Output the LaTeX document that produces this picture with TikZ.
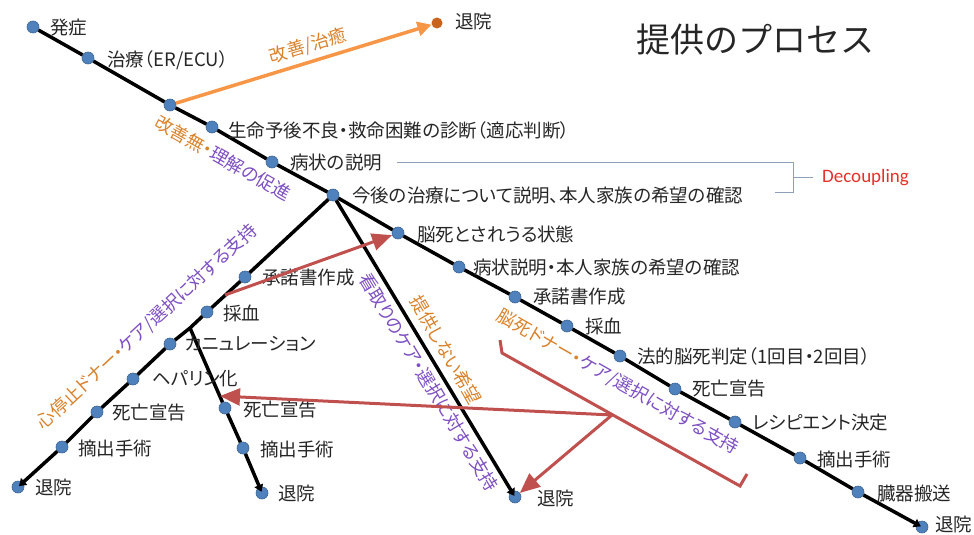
\documentclass[tikz,border=0pt]{standalone}
\usepackage{fontspec}
\newfontfamily\jpf[RawFeature=+palt]{Noto Sans CJK JP}
\newfontfamily\jpt{Noto Sans CJK JP}
\newfontfamily\calfont{Carlito}
\usetikzlibrary{arrows.meta}
\definecolor{dotblue}{HTML}{4F81BD}
\definecolor{dotedge}{HTML}{3B6496}
\definecolor{orangeline}{HTML}{F79646}
\definecolor{orangetext}{HTML}{D9822B}
\definecolor{purpletext}{HTML}{7E4FC2}
\definecolor{redline}{HTML}{C0504D}
\definecolor{grayline}{HTML}{8EA0B8}
\definecolor{decored}{HTML}{E8302A}
\definecolor{odot}{HTML}{C8631E}
\begin{document}
\begin{tikzpicture}[x=1pt,y=-1pt,
  dot/.style={circle,fill=dotblue,draw=dotedge,line width=0.6pt,minimum size=12pt,inner sep=0pt},
  lbl/.style={anchor=west,inner sep=0pt,font=\jpf\fontsize{18.5}{20}\selectfont,text=black!85},
  rlbl/.style={inner sep=0pt,font=\jpf\fontsize{18}{20}\selectfont},
  track/.style={line width=3.5pt,draw=black},
  trackend/.style={track,-{Triangle[length=7pt,width=9pt]},shorten >=-5pt},
  redarrow/.style={line width=3pt,draw=redline,-{Triangle[length=20pt,width=17pt]}},
  orangearrow/.style={line width=3.5pt,draw=orangeline,-{Triangle[length=14pt,width=14pt]}},
  bracketline/.style={line width=1pt,draw=grayline},
]
\useasboundingbox (0,0) rectangle (974,535);

% title
\node[font=\jpt\fontsize{34}{36}\selectfont,text=black!85] (title) at (755,40) {提供のプロセス};

% main line dots
\node[dot] (m1) at (33,27) {};
\node[dot] (m2) at (88,58) {};
\node[dot] (m3) at (170,105) {};
\node[dot] (m4) at (212,127) {};
\node[dot] (m5) at (272,162) {};
\node[dot] (hub) at (333,195) {};
\node[dot] (m7) at (398,233) {};
\node[dot] (m8) at (459,267) {};
\node[dot] (m9) at (515,297) {};
\node[dot] (m10) at (567,326) {};
\node[dot] (m11) at (620,356) {};
\node[dot] (m12) at (675,389) {};
\node[dot] (m13) at (735,422) {};
\node[dot] (m14) at (800,458) {};
\node[dot] (m15) at (858,492) {};
\node[dot] (m16) at (922,527) {};

% left branch dots
\node[dot] (l1) at (245,277) {};
\node[dot] (l2) at (207,312) {};
\coordinate (mb0) at (190,328);
\node[dot] (l3) at (170,344) {};
\node[dot] (l4) at (133,379) {};
\node[dot] (l5) at (97,412) {};
\node[dot] (l6) at (62,447) {};
\node[dot] (l7) at (18,487) {};

% middle branch dots
\node[dot] (c1) at (225,408) {};
\node[dot] (c2) at (243,448) {};
\node[dot] (c3) at (262,493) {};

% third branch end
\node[dot] (r1) at (515,497) {};

% orange end
\node[circle,fill=odot,minimum size=11pt,inner sep=0pt] (o1) at (437,23) {};

% tracks
\draw[track] (m1) -- (m2) -- (m3) -- (m4) -- (m5) -- (hub) -- (m7) -- (m8) -- (m9)
  -- (m10) -- (m11) -- (m12) -- (m13) -- (m14) -- (m15);
\draw[trackend] (m15) -- (m16);
\draw[track] (hub) -- (l1) -- (l2) -- (mb0) -- (l3) -- (l4) -- (l5) -- (l6);
\draw[trackend] (l6) -- (l7);
\draw[track] (mb0) -- (c1) -- (c2);
\draw[trackend] (c2) -- (c3);
\draw[trackend] (hub) -- (r1);
\draw[orangearrow] (m3) -- (o1);

% labels, main line
\node[lbl] (t1) at (50,28) {発症};
\node[lbl] (t2) at (107,60) {治療（ER/ECU）};
\node[lbl] (t4) at (228,130) {生命予後不良・救命困難の診断（適応判断）};
\node[lbl] (t5) at (290,163) {病状の説明};
\node[lbl] (t6) at (352,196) {今後の治療について説明、本人家族の希望の確認};
\node[lbl] (t7) at (417,234) {脳死とされうる状態};
\node[lbl] (t8) at (473,268) {病状説明・本人家族の希望の確認};
\node[lbl] (t9) at (533,297) {承諾書作成};
\node[lbl] (t10) at (585,326) {採血};
\node[lbl] (t11) at (637,356) {法的脳死判定（1回目・2回目）};
\node[lbl] (t12) at (692,389) {死亡宣告};
\node[lbl] (t13) at (752,423) {レシピエント決定};
\node[lbl] (t14) at (817,459) {摘出手術};
\node[lbl] (t15) at (877,493) {臓器搬送};
\node[lbl] (t16) at (935,525) {退院};
\node[lbl] (to1) at (455,22) {退院};

% labels, left branch
\node[lbl] (tl1) at (262,278) {承諾書作成};
\node[lbl] (tl2) at (223,313) {採血};
\node[lbl] (tl3) at (185,344) {カニュレーション};
\node[lbl] (tl4) at (152,379) {ヘパリン化};
\node[lbl] (tl5) at (112,413) {死亡宣告};
\node[lbl] (tl6) at (78,448) {摘出手術};
\node[lbl] (tl7) at (35,488) {退院};

% labels, middle branch
\node[lbl] (tc1) at (243,410) {死亡宣告};
\node[lbl] (tc2) at (260,449) {摘出手術};
\node[lbl] (tc3) at (278,494) {退院};

% label, third branch
\node[lbl] (tr1) at (537,499) {退院};

% rotated labels
\node[rlbl,rotate=16.7,text=orangetext] (tkaizen) at (308,46) {改善/治癒};
\node[rlbl,rotate=-29.4] (tkaizenmu) at (223,158) {{\color{orangetext}改善無・}{\color{purpletext}理解の促進}};
\node[rlbl,rotate=42.9] (tshin) at (147,327) {{\color{orangetext}心停止ドナー・}{\color{purpletext}ケア/選択に対する支持}};
\node[rlbl,rotate=-59,text=purpletext] (tmitori) at (429,382) {看取りのケア・選択に対する支持};
\node[rlbl,rotate=-60,text=orangetext] (tteikyo) at (446,350) {提供しない希望};
\node[rlbl,rotate=-29.5] (tnoushi) at (618,382) {{\color{orangetext}脳死ドナー・}{\color{purpletext}ケア/選択に対する支持}};

% decoupling bracket
\node[anchor=west,inner sep=0pt,font=\calfont\fontsize{19}{20}\selectfont,text=decored] (deco) at (822,178) {Decoupling};
\coordinate (g1) at (397,162);
\coordinate (g2) at (793,162);
\coordinate (g3) at (793,192);
\coordinate (g4) at (775,192);
\coordinate (g5) at (793,177);
\coordinate (g6) at (813,177);
\draw[bracketline] (g1) -- (g2) -- (g3) -- (g4);
\draw[bracketline] (g5) -- (g6);

% red elements
\coordinate (rs1) at (225,295);
\coordinate (rb1) at (500,340);
\coordinate (rb2) at (502,353);
\coordinate (rb3) at (740,486);
\coordinate (rb4) at (747,474);
\coordinate (rc) at (612,415);
\coordinate (mbt) at (220,396);
\draw[line width=3pt,draw=redline] (rb1) -- (rb2) -- (rb3) -- (rb4);
\draw[redarrow] (rs1) -- (m7);
\draw[redarrow] (rc) -- (mbt);
\draw[redarrow] (rc) -- (r1);
\end{tikzpicture}
\end{document}
